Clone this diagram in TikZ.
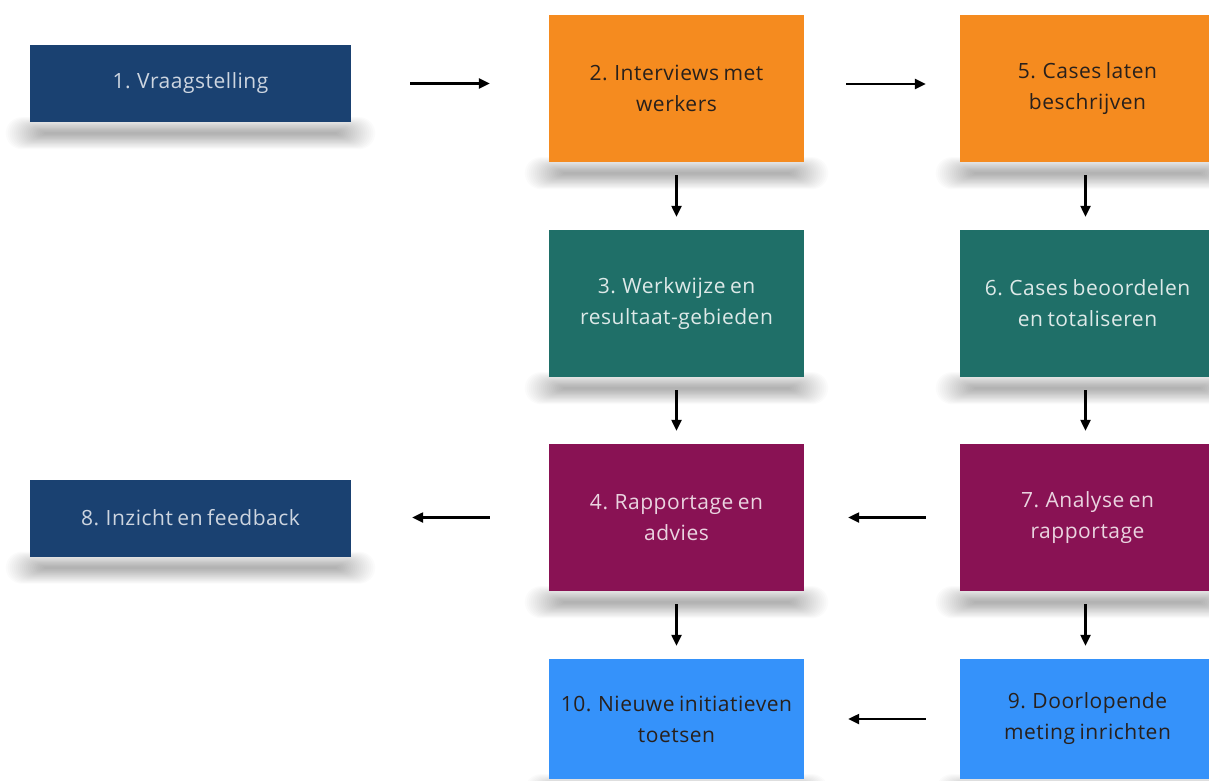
\documentclass[tikz,border=0pt]{standalone}
\usepackage{fontspec}
\setmainfont{Open Sans}[LetterSpace=2.5,WordSpace=0.75]
\usetikzlibrary{arrows.meta,backgrounds,calc}
\definecolor{navy}{RGB}{26,65,113}
\definecolor{orng}{RGB}{245,139,31}
\definecolor{teal2}{RGB}{31,111,104}
\definecolor{plum}{RGB}{137,18,84}
\definecolor{sky}{RGB}{53,146,250}
\definecolor{darktext}{RGB}{40,32,28}
\tikzset{
  stepbox/.style={rectangle, inner sep=0pt, align=center,
    font=\fontsize{21}{31}\selectfont},
  widebox/.style={stepbox, minimum width=321pt, minimum height=77pt, fill=navy, text=white!78!navy},
  orbox/.style={stepbox, minimum width=255pt, minimum height=147pt, fill=orng, text=darktext},
  tebox/.style={stepbox, minimum width=255pt, minimum height=147pt, fill=teal2, text=white!85!teal2},
  plbox/.style={stepbox, minimum width=255pt, minimum height=147pt, fill=plum, text=white!82!plum},
  skbox/.style={stepbox, minimum width=255pt, minimum height=120pt, fill=sky, text=darktext},
  conn/.style={line width=2.3pt, -{Triangle[length=11pt,width=10pt]}}
}
\newcommand\boxshadow[1]{%
  \foreach \i in {1,...,20}{%
    \fill[black,opacity=0.016,rounded corners={0.8*\i*1pt}]
      ([xshift={(16-2*\i)*1pt}, yshift={(-11+0.8*\i)*1pt}]#1.south west) rectangle
      ([xshift={(2*\i-16)*1pt}, yshift={(-11-0.8*\i)*1pt}]#1.south east);
  }%
}
\begin{document}
\begin{tikzpicture}[x=1pt,y=-1pt]
\useasboundingbox (0,0) rectangle (1209,781);
\node[widebox] (b1) at (190.5,83.5) {1. Vraagstelling};
\node[orbox] (b2) at (676.5,88.5) {2. Interviews met\\werkers};
\node[orbox] (b5) at (1087.5,88.5) {5. Cases laten\\beschrijven};
\node[tebox] (b3) at (676.5,303.5) {3. Werkwijze en\\resultaat-gebieden};
\node[tebox] (b6) at (1087.5,303.5) {6. Cases beoordelen\\en totaliseren};
\node[plbox] (b4) at (676.5,517.5) {4. Rapportage en\\advies};
\node[plbox] (b7) at (1087.5,517.5) {7. Analyse en\\rapportage};
\node[widebox] (b8) at (190.5,518) {8. Inzicht en feedback};
\node[skbox] (b10) at (676.5,719) {10. Nieuwe initiatieven\\toetsen};
\node[skbox] (b9) at (1087.5,719) {9. Doorlopende\\meting inrichten};
\begin{scope}[on background layer]
  \fill[white] (0,0) rectangle (1209,781);
  \foreach \n in {b1,b2,b5,b3,b6,b4,b7,b8,b10,b9}{\boxshadow{\n}}
\end{scope}
% horizontal arrows
\draw[conn] ([xshift=59pt]b1.east) -- ([xshift=-59pt]b1.east -| b2.west);
\draw[conn] ([xshift=42pt,yshift=4.5pt]b2.east) -- ([xshift=-34pt,yshift=4.5pt]b5.west);
\draw[conn] ([xshift=-34pt]b7.west) -- ([xshift=44pt]b4.east);
\draw[conn] ([xshift=-59pt]b4.west) -- ([xshift=61pt]b4.west -| b8.east);
\draw[conn] ([xshift=-34pt]b9.west) -- ([xshift=44pt]b10.east);
% vertical arrows
\draw[conn] ([yshift=-13pt]b2.south) -- ([yshift=13pt]b3.north);
\draw[conn] ([yshift=-13pt]b3.south) -- ([yshift=13pt]b4.north);
\draw[conn] ([yshift=-13pt]b4.south) -- ([yshift=13pt]b10.north);
\draw[conn] ([yshift=-13pt,xshift=-2pt]b5.south) -- ([yshift=13pt,xshift=-2pt]b6.north);
\draw[conn] ([yshift=-13pt,xshift=-2pt]b6.south) -- ([yshift=13pt,xshift=-2pt]b7.north);
\draw[conn] ([yshift=-13pt,xshift=-2pt]b7.south) -- ([yshift=13pt,xshift=-2pt]b9.north);
\end{tikzpicture}
\end{document}
